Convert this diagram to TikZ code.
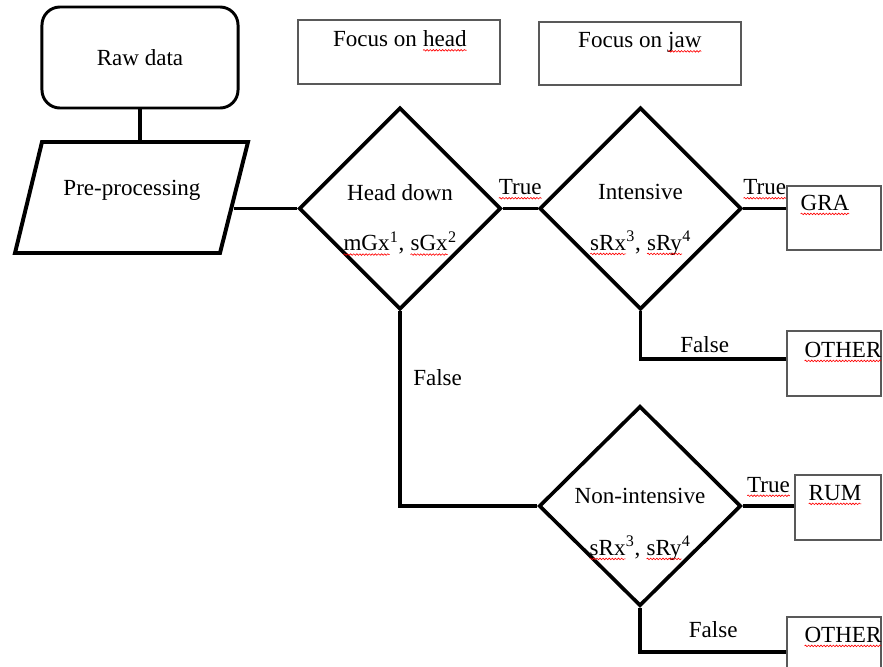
\documentclass[tikz,border=0pt]{standalone}
\usepackage{fontspec}
\setmainfont{Liberation Serif}
\usetikzlibrary{shapes.geometric,calc,positioning,decorations.pathmorphing}
% red wavy line under a word
\newcommand\spl[1]{\tikz[baseline=(sq.base),x=1pt,y=1pt]{\node[inner sep=0pt,outer sep=0pt] (sq) {#1};
  \draw[red,line width=0.45pt,decorate,decoration={snake,amplitude=0.55pt,segment length=2.2pt}]
    ([yshift=-2.6pt]sq.base west) -- ([yshift=-2.6pt]sq.base east);}}

\begin{document}
\begin{tikzpicture}[x=0.025cm,y=-0.025cm,font=\fontsize{16.4}{19}\selectfont,
  decision/.style={draw,diamond,aspect=1,inner sep=0pt,line width=2.6pt,minimum width=5.05cm,minimum height=5.05cm},
  outbox/.style={draw=black!65,line width=1pt,inner sep=0pt},
  conn/.style={line width=2.2pt},
  txt/.style={inner sep=0pt}]
  \clip (0,0) rectangle (883,666);
  \node[draw,rounded corners=0.45cm,line width=2.1pt,minimum width=4.9cm,minimum height=2.525cm] (raw) at (140,57.5) {Raw data};
  %% Pre-processing parallelogram
  \foreach \x/\y [count=\ind] in {15/253,42/142,248/142,220/253}{
    \coordinate (Pre-\ind) at (\x,\y);
  }
  \draw[line width=2.8pt,line join=miter] (Pre-1) -- (Pre-2) -- (Pre-3) -- (Pre-4) -- cycle;
  \node[txt] (pre) at (132,190) {Pre-processing};
  \coordinate (pre-e) at (234,208.5);
  %% Decisions
  \node[decision] (head) at (400,208.5) {};
  \node[decision] (int) at (640.5,208.5) {};
  \node[decision,minimum height=5cm] (non) at (640,506) {};
  \foreach \d/\u/\v/\a/\b in {head/-16/35/{Head down}/{\spl{mGx}\textsuperscript{1}, \spl{sGx}\textsuperscript{2}},
      int/-16.5/34.5/{Intensive}/{\spl{sRx}\textsuperscript{3}, \spl{sRy}\textsuperscript{4}},
      non/-10/42/{Non-intensive}/{\spl{sRx}\textsuperscript{3}, \spl{sRy}\textsuperscript{4}}}{
    \node[txt] (\d-a) at ($(\d)+(0,\u)$) {\a};
    \node[txt] (\d-b) at ($(\d)+(0,\v)$) {\b};
  }
  %% Boxes
  \node[outbox,minimum width=5.05cm,minimum height=1.6cm] (fhead) at (399,52) {};
  \node[txt] (fhead-t) at ($(fhead)+(1,-11)$) {Focus on \spl{head}};
  \node[outbox,minimum width=5.05cm,minimum height=1.575cm] (fjaw) at (640,53.5) {};
  \node[txt] (fjaw-t) at ($(fjaw)+(0,-11)$) {Focus on \spl{jaw}};
  \node[outbox,minimum width=2.35cm,minimum height=1.6cm] (gra) at (834,218) {};
  \node[txt] (gra-t) at ($(gra)+(-9,-13)$) {\spl{GRA}};
  \node[outbox,minimum width=2.35cm,minimum height=1.625cm] (oth1) at (834,363.5) {};
  \node[txt] (oth1-t) at ($(oth1)+(9,-11.5)$) {\spl{OTHER}};
  \node[outbox,minimum width=2.15cm,minimum height=1.625cm] (rum) at (838,507.5) {};
  \node[txt] (rum-t) at ($(rum)+(-3,-12.5)$) {\spl{RUM}};
  \node[outbox,minimum width=2.35cm,minimum height=1.625cm] (oth2) at (834,649.5) {};
  \node[txt] (oth2-t) at ($(oth2)+(9,-12.5)$) {\spl{OTHER}};
  %% Connectors
  \draw[conn] (raw) -- (raw |- Pre-2);
  \draw[conn] (head.west) -- (pre-e);
  \draw[conn] (head.east) -- node[above=3pt] (true1) {\spl{True}} (int.west);
  \draw[conn] (int.east) -- node[above=3pt] (true2) {\spl{True}} (int.east -| gra.west);
  \draw[conn] (int.south) |- node[pos=0.72,above=0pt] (false2) {False} ($(oth1.west)+(0,-4.5)$);
  \draw[conn] (head.south) |- node[pos=0.17,right=5pt] (false1) {False} (non.west);
  \draw[conn] (non.east) -- node[above=3pt] (true3) {\spl{True}} (non.east -| rum.west);
  \draw[conn] (non.south) |- node[pos=0.75,above=6pt] (false3) {False} ($(oth2.west)+(0,2.5)$);
\end{tikzpicture}
\end{document}
